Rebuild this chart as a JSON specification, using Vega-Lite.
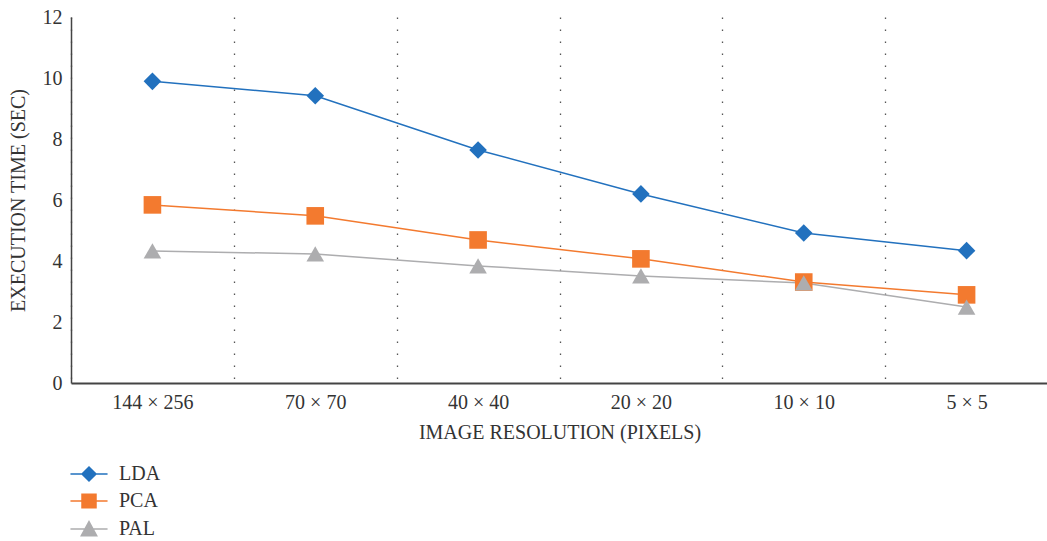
{
  "$schema": "https://vega.github.io/schema/vega-lite/v6.json",
  "width": 977,
  "height": 366,
  "autosize": {"type": "none"},
  "padding": {"left": 71, "top": 17, "right": 0, "bottom": 158},
  "background": "white",
  "config": {"font": "Liberation Serif", "view": {"stroke": null}},
  "data": {
    "values": [
      {"res": "144 × 256", "method": "LDA", "time": 9.89},
      {"res": "70 × 70", "method": "LDA", "time": 9.42},
      {"res": "40 × 40", "method": "LDA", "time": 7.64},
      {"res": "20 × 20", "method": "LDA", "time": 6.2},
      {"res": "10 × 10", "method": "LDA", "time": 4.92},
      {"res": "5 × 5", "method": "LDA", "time": 4.34},
      {"res": "144 × 256", "method": "PCA", "time": 5.84},
      {"res": "70 × 70", "method": "PCA", "time": 5.48},
      {"res": "40 × 40", "method": "PCA", "time": 4.69},
      {"res": "20 × 20", "method": "PCA", "time": 4.07},
      {"res": "10 × 10", "method": "PCA", "time": 3.31},
      {"res": "5 × 5", "method": "PCA", "time": 2.89},
      {"res": "144 × 256", "method": "PAL", "time": 4.33},
      {"res": "70 × 70", "method": "PAL", "time": 4.23},
      {"res": "40 × 40", "method": "PAL", "time": 3.84},
      {"res": "20 × 20", "method": "PAL", "time": 3.51},
      {"res": "10 × 10", "method": "PAL", "time": 3.28},
      {"res": "5 × 5", "method": "PAL", "time": 2.49}
    ]
  },
  "encoding": {
    "x": {
      "field": "res",
      "type": "nominal",
      "sort": ["144 × 256", "70 × 70", "40 × 40", "20 × 20", "10 × 10", "5 × 5"],
      "bandPosition": 0.5,
      "scale": {"type": "band", "paddingInner": 0, "paddingOuter": 0},
      "axis": {
        "title": "IMAGE RESOLUTION (PIXELS)",
        "labelAngle": 0,
        "tickBand": "extent",
        "ticks": false,
        "grid": true,
        "gridDash": [1.5, 10.5],
        "gridColor": "#555555",
        "gridWidth": 1.3,
        "domainColor": "#444444",
        "domainWidth": 2,
        "labelFontSize": 20,
        "labelColor": "#333333",
        "labelPadding": 9,
        "titleFontSize": 20,
        "titleFontWeight": "normal",
        "titleColor": "#333333",
        "titlePadding": 10
      }
    },
    "y": {
      "field": "time",
      "type": "quantitative",
      "scale": {"domain": [0, 12]},
      "axis": {
        "title": "EXECUTION TIME (SEC)",
        "values": [0, 2, 4, 6, 8, 10, 12],
        "grid": false,
        "ticks": false,
        "domainColor": "#444444",
        "domainWidth": 1.5,
        "labelFontSize": 20,
        "labelColor": "#333333",
        "labelPadding": 9,
        "titleFontSize": 20,
        "titleFontWeight": "normal",
        "titleColor": "#333333",
        "titlePadding": 14
      }
    },
    "color": {
      "field": "method",
      "type": "nominal",
      "scale": {"domain": ["LDA", "PCA", "PAL"], "range": ["#2271BE", "#F37A2F", "#ADADAF"]},
      "legend": {
        "title": null,
        "orient": "none",
        "legendX": 8,
        "legendY": 447,
        "padding": 0,
        "labelFontSize": 20,
        "labelColor": "#333333",
        "labelOffset": 20,
        "symbolSize": 196,
        "rowPadding": 7,
        "encode": {
          "symbols": {
            "update": {
              "shape": {"signal": "datum.value === 'LDA' ? 'M-2.65,0H2.65M-1,0L0,-1L1,0L0,1Z' : datum.value === 'PCA' ? 'M-2.65,0H2.65M-1,-0.95H1V0.95H-1Z' : 'M-2.65,0H2.65M0,-1.05L1.1,0.95L-1.1,0.95Z'"},
              "fill": {"signal": "scale('color', datum.value)"},
              "stroke": {"signal": "scale('color', datum.value)"},
              "strokeWidth": {"value": 1.5},
              "opacity": {"value": 1}
            }
          }
        }
      }
    }
  },
  "layer": [
    {"mark": {"type": "line", "strokeWidth": 1.5}},
    {
      "mark": {"type": "point", "filled": true, "opacity": 1, "size": 310},
      "encoding": {
        "shape": {
          "condition": [
            {"test": "datum.method === 'LDA'", "value": "diamond"},
            {"test": "datum.method === 'PCA'", "value": "square"}
          ],
          "value": "triangle-up"
        }
      }
    }
  ]
}
